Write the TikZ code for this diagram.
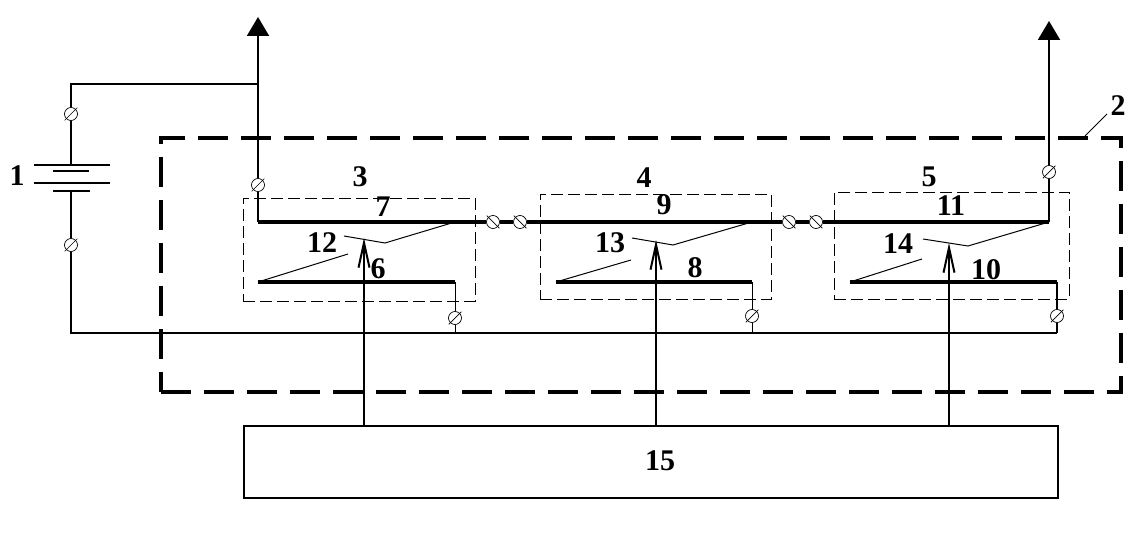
\documentclass[tikz,border=0pt]{standalone}
\usepackage{fontspec}
\setmainfont{Liberation Serif}
\usetikzlibrary{arrows.meta}

\tikzset{
  wire/.style={line width=2pt},
  bus/.style={line width=3.6pt},
  thinwire/.style={line width=1pt},
  outarrow/.style={line width=2pt, -{Triangle[length=19pt,width=22pt]}},
  ctrlarrow/.style={line width=2.2pt, -{Straight Barb[length=25pt,width=11pt,line width=2pt]}},
  moduleframe/.style={draw, line width=0.9pt, dash pattern=on 12pt off 5pt},
  unitframe/.style={draw, line width=4.4pt, dash pattern=on 30pt off 13pt},
  termcircle/.style={circle, draw, fill=white, line width=0.7pt, minimum size=13pt, inner sep=0pt},
  numlabel/.style={font=\bfseries\fontsize{30}{30}\selectfont, inner sep=0pt}
}

% terminal: name, x, y, tilt of the slash
\newcommand\terminal[4]{
  \node[termcircle, rotate=#4] (#1) at (#2,#3) {};
  \draw[line width=0.7pt, shorten <=-2pt, shorten >=-2pt] (#1.south) -- (#1.north);
}
\newcommand\numlabel[4]{\node[numlabel] (#1) at (#2,#3) {#4};}

% moving contact: name prefix, bend x/y, tip x/y
\newcommand\contact[5]{
  \coordinate (#1bend) at (#2,#3);
  \coordinate (#1tip) at (#4,#5);
}

\begin{document}
\begin{tikzpicture}[x=1pt, y=-1pt]
    \useasboundingbox (0,0) rectangle (1145,534);

    % outer unit and the three modules
    \node[unitframe, minimum width=960pt, minimum height=254pt] (unit) at (641,265) {};
    \node[moduleframe, minimum width=232pt, minimum height=103pt] (mod3) at (359,249.5) {};
    \node[moduleframe, minimum width=231pt, minimum height=105pt] (mod4) at (655.5,246.5) {};
    \node[moduleframe, minimum width=235pt, minimum height=107pt] (mod5) at (951.5,245.5) {};

    % controller
    \node[draw, line width=2pt, minimum width=814pt, minimum height=72pt] (ctrl) at (651,462) {};

    % terminals
    \terminal{tbatup}{71}{114}{-45}
    \terminal{tbatdn}{71}{245}{-45}
    \terminal{tleft}{258}{185}{-45}
    \terminal{tright}{1049}{172}{-45}
    \terminal{tlinkA}{493}{222}{45}
    \terminal{tlinkB}{520}{222}{45}
    \terminal{tlinkC}{789}{222}{45}
    \terminal{tlinkD}{816}{222}{45}
    \terminal{tgndA}{455}{318}{-45}
    \terminal{tgndB}{752}{316}{-45}
    \terminal{tgndC}{1057}{316}{-45}

    % battery plates
    \coordinate (platetop) at (71,165);
    \coordinate (platebot) at (71,191);
    \draw[wire] (34,165) -- (110,165);
    \draw[wire] (53,171) -- (89,171);
    \draw[wire] (34,183) -- (110,183);
    \draw[wire] (53,191) -- (90,191);

    % battery to left output
    \coordinate (corner) at (71,84);
    \coordinate (junc) at (258,84);
    \coordinate (outleft) at (258,17);
    \draw[wire] (platetop) -- (tbatup);
    \draw[wire] (tbatup) -- (corner) -- (junc);
    \draw[outarrow] (tleft) -- (outleft);

    % right output
    \coordinate (outright) at (1049,21);
    \draw[outarrow] (tright) -- (outright);

    % upper bus
    \coordinate (busleft) at (258,222);
    \coordinate (busright) at (1049,222);
    \draw[wire] (tleft) -- (busleft);
    \draw[wire] (tright) -- (busright);
    \draw[bus] (busleft) -- (tlinkA);
    \draw[bus] (tlinkA) -- (tlinkB);
    \draw[bus] (tlinkB) -- (tlinkC);
    \draw[bus] (tlinkC) -- (tlinkD);
    \draw[bus] (tlinkD) -- (busright);

    % lower bars
    \coordinate (barAl) at (258,282);
    \coordinate (barAr) at (455,282);
    \coordinate (barBl) at (556,282);
    \coordinate (barBr) at (752,282);
    \coordinate (barCl) at (850,282);
    \coordinate (barCr) at (1057,282);
    \draw[bus] (barAl) -- (barAr);
    \draw[bus] (barBl) -- (barBr);
    \draw[bus] (barCl) -- (barCr);

    % return wire
    \coordinate (retleft) at (71,333);
    \coordinate (retA) at (455,333);
    \coordinate (retB) at (752,333);
    \coordinate (retC) at (1057,333);
    \draw[wire] (platebot) -- (tbatdn);
    \draw[wire] (tbatdn) -- (retleft) -- (retC);
    \draw[thinwire] (barAr) -- (tgndA);
    \draw[thinwire] (tgndA) -- (retA);
    \draw[thinwire] (barBr) -- (tgndB);
    \draw[thinwire] (tgndB) -- (retB);
    \draw[wire] (barCr) -- (tgndC);
    \draw[wire] (tgndC) -- (retC);

    % switch contacts
    \coordinate (hingeA) at (455,222);
    \coordinate (hingeB) at (752,222);
    \contact{swA}{385}{243}{344}{236}
    \contact{swB}{673}{245}{632}{238}
    \contact{swC}{968}{246}{923}{239}
    \coordinate (lowA) at (348,254);
    \coordinate (lowB) at (631,260);
    \coordinate (lowC) at (922,259);
    \draw[thinwire] (hingeA) -- (swAbend) -- (swAtip);
    \draw[thinwire] (hingeB) -- (swBbend) -- (swBtip);
    \draw[thinwire] (busright) -- (swCbend) -- (swCtip);
    \draw[thinwire] (barAl) -- (lowA);
    \draw[thinwire] (barBl) -- (lowB);
    \draw[thinwire] (barCl) -- (lowC);

    % control arrows
    \coordinate (ctrlA) at (364,426);
    \coordinate (ctrlB) at (656,426);
    \coordinate (ctrlC) at (949,426);
    \coordinate (ctrlAtip) at (364,238);
    \coordinate (ctrlBtip) at (656,240);
    \coordinate (ctrlCtip) at (949,243);
    \draw[ctrlarrow] (ctrlA) -- (ctrlAtip);
    \draw[ctrlarrow] (ctrlB) -- (ctrlBtip);
    \draw[ctrlarrow] (ctrlC) -- (ctrlCtip);

    % leader of the unit
    \coordinate (leadA) at (1085,136);
    \coordinate (leadB) at (1107,114);
    \draw[thinwire] (leadA) -- (leadB);

    % numbers
    \numlabel{nA}{17}{176}{1}
    \numlabel{nB}{1118}{106}{2}
    \numlabel{nC}{360}{177}{3}
    \numlabel{nD}{644}{178}{4}
    \numlabel{nE}{929}{177}{5}
    \numlabel{nF}{378}{269}{6}
    \numlabel{nG}{383}{207}{7}
    \numlabel{nH}{695}{268}{8}
    \numlabel{nI}{664}{205}{9}
    \numlabel{nJ}{986}{270}{10}
    \numlabel{nK}{951}{206}{11}
    \numlabel{nL}{322}{243}{12}
    \numlabel{nM}{610}{243}{13}
    \numlabel{nN}{898}{244}{14}
    \numlabel{nO}{660}{461}{15}
\end{tikzpicture}
\end{document}
